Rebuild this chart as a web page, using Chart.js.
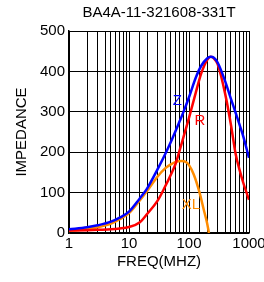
<!DOCTYPE html>
<html>
<head>
<meta charset="utf-8">
<script src="https://cdn.jsdelivr.net/npm/chart.js@4/dist/chart.umd.min.js"></script>
<style>
  body { margin: 0; background: #fff; }
  canvas { display: block; }
</style>
</head>
<body>
<canvas id="impedance" width="264" height="282"></canvas>
<script>
// frequency points (MHz) shared by Z and R
const freqs = [1, 2, 3, 5, 7, 10, 15, 20, 30, 40, 50, 60, 70, 80, 100, 130, 160, 200, 230, 260, 300, 400, 500, 600, 700, 800, 1000];
const zVals = [9, 14, 19, 28, 38, 53, 85, 110, 158, 195, 226, 253, 277, 298, 336, 385, 414, 432, 436, 434, 422, 376, 332, 297, 267, 240, 186];
const rVals = [6, 7, 8, 9, 11, 15, 26, 47, 80, 115, 145, 172, 205, 235, 285, 348, 395, 428, 436, 432, 418, 345, 268, 195, 155, 125, 82];

// XL stops at the zero crossing
const xlFreqs = [1, 2, 3, 5, 7, 10, 15, 20, 30, 40, 50, 60, 75, 90, 100, 120, 150, 180, 200, 215];
const xlVals = [5, 10, 14, 23, 34, 49, 80, 104, 140, 160, 170, 176, 178, 175, 168, 145, 100, 52, 25, 0];

const xTickLabels = [1, 10, 100, 1000];
const yTicks = [0, 100, 200, 300, 400, 500];

const font = 'Arial, "Liberation Sans", sans-serif';

function toPoints(xs, ys) {
    return xs.map((x, i) => ({ x: x, y: ys[i] }));
}

// curve names written next to each curve, placed in data coordinates
const curveNames = [
    { text: 'Z', x: 64, y: 327, color: '#0000ff' },
    { text: 'R', x: 152, y: 277, color: '#ff0000' },
    { text: 'XL', x: 108, y: 69, color: '#ff8c00' }
];

const namePlugin = {
    id: 'curveNames',
    afterDatasetsDraw(chart) {
        const ctx = chart.ctx;
        const xs = chart.scales.x;
        const ys = chart.scales.y;
        ctx.save();
        ctx.font = '15px ' + font;
        ctx.textAlign = 'center';
        ctx.textBaseline = 'middle';
        curveNames.forEach(n => {
            ctx.fillStyle = n.color;
            ctx.fillText(n.text, xs.getPixelForValue(n.x), ys.getPixelForValue(n.y));
        });
        ctx.restore();
    }
};

const data = {
    datasets: [
        {
            label: 'Z',
            data: toPoints(freqs, zVals),
            borderColor: '#0000ff',
            borderWidth: 2.5,
            pointRadius: 0,
            cubicInterpolationMode: 'monotone',
            fill: false
        },
        {
            label: 'R',
            data: toPoints(freqs, rVals),
            borderColor: '#ff0000',
            borderWidth: 2.5,
            pointRadius: 0,
            cubicInterpolationMode: 'monotone',
            fill: false
        },
        {
            label: 'XL',
            data: toPoints(xlFreqs, xlVals),
            borderColor: '#ff8c00',
            borderWidth: 2.5,
            pointRadius: 0,
            cubicInterpolationMode: 'monotone',
            fill: false
        }
    ]
};

const config = {
    type: 'line',
    data: data,
    options: {
        responsive: false,
        animation: false,
        devicePixelRatio: 1,
        layout: { padding: { left: 0, right: 15, top: 0, bottom: 0 } },
        plugins: {
            legend: { display: false },
            tooltip: { enabled: false },
            title: {
                display: true,
                text: 'BA4A-11-321608-331T',
                color: '#000',
                fullSize: false,
                font: { family: font, size: 15, weight: 'normal' },
                padding: { top: 4, bottom: 9 }
            }
        },
        scales: {
            x: {
                type: 'logarithmic',
                min: 1,
                max: 1000,
                grid: { color: '#000', lineWidth: 1, drawTicks: false },
                border: { color: '#000', width: 1.5 },
                ticks: {
                    autoSkip: false,
                    maxRotation: 0,
                    padding: 2,
                    color: '#000',
                    font: { family: font, size: 15 },
                    callback: value => xTickLabels.includes(value) ? String(value) : ''
                },
                title: {
                    display: true,
                    text: 'FREQ(MHZ)',
                    color: '#000',
                    font: { family: font, size: 15 },
                    padding: { top: 0, bottom: 11 }
                },
                afterFit(scale) {
                    scale.height = 49;
                    scale.paddingLeft = 0;
                    scale.paddingRight = 0;
                }
            },
            y: {
                min: 0,
                max: 500,
                afterBuildTicks(scale) {
                    scale.ticks = yTicks.map(v => ({ value: v }));
                },
                grid: { color: '#000', lineWidth: 1, drawTicks: false },
                border: { color: '#000', width: 1.5 },
                ticks: {
                    padding: 4,
                    color: '#000',
                    font: { family: font, size: 15 }
                },
                title: {
                    display: true,
                    text: 'IMPEDANCE',
                    color: '#000',
                    font: { family: font, size: 15 },
                    padding: { top: 13, bottom: 0 }
                },
                afterFit(scale) {
                    scale.width = 69;
                    scale.paddingTop = 0;
                    scale.paddingBottom = 0;
                }
            }
        }
    },
    plugins: [namePlugin]
};

new Chart(document.getElementById('impedance'), config);
</script>
</body>
</html>
